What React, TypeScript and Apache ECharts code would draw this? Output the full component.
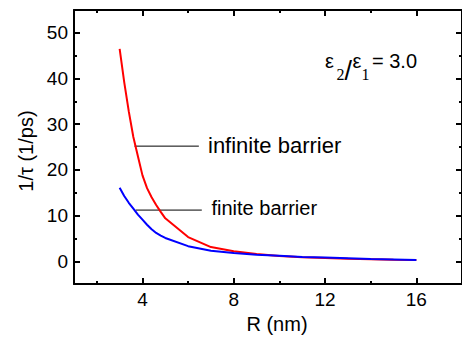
import React, { useEffect, useRef } from "react";
import * as echarts from "echarts";

const rValues = [3, 3.2, 3.4, 3.6, 3.8, 4, 4.2, 4.4, 4.6, 4.8, 5, 6, 7, 8, 9, 10, 11, 12, 13, 14, 15, 16];
const infiniteBarrier = [46.5, 39.2, 32.8, 27.2, 23.0, 18.8, 16.0, 14.0, 12.3, 10.8, 9.4, 5.3, 3.1, 2.2, 1.6, 1.15, 0.9, 0.7, 0.55, 0.45, 0.35, 0.3];
const finiteBarrier = [16.1, 14.3, 12.8, 11.5, 10.2, 9.1, 8.0, 7.0, 6.2, 5.6, 5.1, 3.3, 2.3, 1.8, 1.45, 1.2, 0.95, 0.8, 0.65, 0.5, 0.4, 0.3];
const infiniteLeader = [[3.65, 25.2], [6.47, 25.2]];
const finiteLeader = [[3.7, 11.2], [6.6, 11.2]];

const xMajor = [4, 8, 12, 16];
const xMinor = [2, 6, 10, 14, 18];
const yMajor = [0, 10, 20, 30, 40, 50];
const yMinor = [-5, 5, 15, 25, 35, 45, 55];

const FONT = "'Liberation Sans', Arial, sans-serif";
const SERIF = "'Liberation Serif', 'Times New Roman', serif";

export default function App() {
  const ref = useRef<HTMLDivElement>(null);
  useEffect(() => {
    if (!ref.current) return;
    const chart = echarts.init(ref.current, undefined, { renderer: "svg" });
    const axLine = { show: true, onZero: false, lineStyle: { color: "#000", width: 2 } };
    const noLine = { show: false, onZero: false };
    const xBase = (pos: string, ticks: number[], len: number, labels: boolean, line: boolean, extra: any = {}) => ({
      type: "value",
      position: pos,
      min: 1,
      max: 18,
      gridIndex: 0,
      axisLine: line ? axLine : noLine,
      splitLine: { show: false },
      axisTick: { show: true, inside: true, length: len, customValues: ticks, lineStyle: { color: "#000", width: 2 } },
      axisLabel: labels
        ? { show: true, customValues: xMajor, fontSize: 19, color: "#000", fontFamily: FONT, margin: 6 }
        : { show: false },
      ...extra,
    });
    const yBase = (pos: string, ticks: number[], len: number, labels: boolean, line: boolean, extra: any = {}) => ({
      type: "value",
      position: pos,
      min: -5,
      max: 55,
      gridIndex: 0,
      axisLine: line ? axLine : noLine,
      splitLine: { show: false },
      axisTick: { show: true, inside: true, length: len, customValues: ticks, lineStyle: { color: "#000", width: 2 } },
      axisLabel: labels
        ? { show: true, customValues: yMajor, fontSize: 19, color: "#000", fontFamily: FONT, margin: 6 }
        : { show: false },
      ...extra,
    });
    const option: any = {
      animation: false,
      backgroundColor: "#fff",
      grid: { left: 74, top: 10, width: 391.8, height: 274.3, containLabel: false },
      xAxis: [
        xBase("bottom", xMajor, 6, true, true, {
          name: "R (nm)",
          nameLocation: "middle",
          nameGap: 29,
          nameTextStyle: { fontSize: 20, color: "#000", fontFamily: FONT, padding: [0, 0, 0, 18] },
        }),
        xBase("bottom", xMinor, 3, false, false),
        xBase("top", xMajor, 6, false, true),
        xBase("top", xMinor, 3, false, false),
      ],
      yAxis: [
        yBase("left", yMajor, 6, true, true, {
          name: "1/τ (1/ps)",
          nameLocation: "middle",
          nameGap: 38,
          nameTextStyle: { fontSize: 20, color: "#000", fontFamily: FONT, padding: [0, 8, 0, 0] },
        }),
        yBase("left", yMinor, 3, false, false),
        yBase("right", yMajor, 6, false, true),
        yBase("right", yMinor, 3, false, false),
      ],
      series: [
        {
          type: "line",
          data: rValues.map((r, i) => [r, infiniteBarrier[i]]),
          showSymbol: false,
          lineStyle: { color: "#ff0000", width: 2 },
          itemStyle: { color: "#ff0000" },
          z: 3,
        },
        {
          type: "line",
          data: rValues.map((r, i) => [r, finiteBarrier[i]]),
          showSymbol: false,
          lineStyle: { color: "#0000ff", width: 2 },
          itemStyle: { color: "#0000ff" },
          z: 4,
        },
        {
          type: "line",
          data: infiniteLeader,
          showSymbol: false,
          lineStyle: { color: "#000", width: 1 },
          z: 2,
        },
        {
          type: "line",
          data: finiteLeader,
          showSymbol: false,
          lineStyle: { color: "#000", width: 1 },
          z: 2,
        },
      ],
      graphic: [
        { type: "text", left: 208, top: 134.6, style: { text: "infinite barrier", fontSize: 22, fontFamily: FONT, fill: "#000" } },
        { type: "text", left: 211.5, top: 198, style: { text: "finite barrier", fontSize: 20, fontFamily: FONT, fill: "#000" } },
        { type: "text", x: 325, y: 60.7, style: { text: "ε", fontSize: 20, fontFamily: FONT, fill: "#000", verticalAlign: "middle", align: "left" } },
        { type: "text", x: 336.5, y: 74.5, style: { text: "2", fontSize: 16, fontFamily: SERIF, fill: "#000", verticalAlign: "middle", align: "left" } },
        { type: "text", x: 344.5, y: 70.5, style: { text: "/", fontSize: 27, fontFamily: FONT, fill: "#000", verticalAlign: "middle", align: "left" } },
        { type: "text", x: 352.5, y: 60.7, style: { text: "ε", fontSize: 20, fontFamily: FONT, fill: "#000", verticalAlign: "middle", align: "left" } },
        { type: "text", x: 361.5, y: 74.5, style: { text: "1", fontSize: 16, fontFamily: SERIF, fill: "#000", verticalAlign: "middle", align: "left" } },
        { type: "text", x: 372, y: 60.7, style: { text: "= 3.0", fontSize: 20, fontFamily: FONT, fill: "#000", verticalAlign: "middle", align: "left" } },
      ],
    };
    chart.setOption(option);
    return () => chart.dispose();
  }, []);
  return (
    <div
      ref={ref}
      style={{ position: "fixed", left: 0, top: 0, width: 462, height: 339, background: "#fff" }}
    />
  );
}
